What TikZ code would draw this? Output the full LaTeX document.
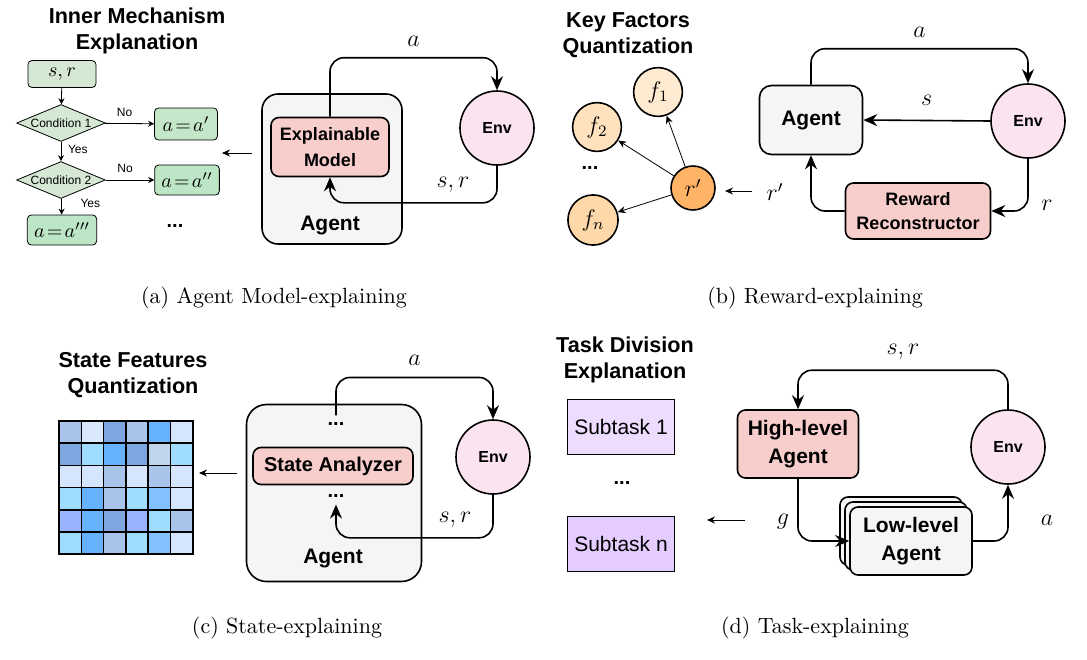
\documentclass[tikz,border=0pt]{standalone}
\usepackage{fontspec}
\setmainfont{Latin Modern Roman}
\newfontfamily\arial{Liberation Sans}
\usetikzlibrary{arrows.meta,positioning,shapes.geometric,calc}
\definecolor{agentgray}{HTML}{F5F5F5}
\definecolor{modelred}{HTML}{F8CECC}
\definecolor{envpink}{HTML}{FBE4F0}
\definecolor{flowgreen}{HTML}{D5E8D4}
\definecolor{leafgreen}{HTML}{BDE6C6}
\definecolor{factor}{HTML}{FFE2BD}
\definecolor{rprime}{HTML}{FFB366}
\definecolor{subone}{HTML}{EDDCFD}
\definecolor{subn}{HTML}{E5CCFF}
\tikzset{
  box/.style={draw, thick, rounded corners=4pt, align=center, font=\arial\bfseries\fontsize{10}{12}\selectfont},
  env/.style={draw, thick, circle, fill=envpink, minimum size=37pt, font=\arial\bfseries\fontsize{8}{10}\selectfont},
  title/.style={font=\arial\bfseries\fontsize{10.8}{13}\selectfont, align=center},
  capt/.style={font=\fontsize{11}{13}\selectfont},
  lab/.style={font=\fontsize{12}{12}\selectfont},
  flow/.style={thick, rounded corners=7pt, -{Stealth[length=7pt,width=6pt]}},
  expl/.style={-{Stealth[length=4pt,width=3.5pt]}},
  thin flow/.style={-{Stealth[length=3pt,width=3pt]}},
  small/.style={font=\arial\fontsize{6}{7}\selectfont},
}
\begin{document}
\begin{tikzpicture}[x=0.5pt,y=-0.5pt]
\useasboundingbox (0,0) rectangle (1087,659);

% (a) agent model-explaining
\node[title] at (137,31) {Inner Mechanism\\Explanation};
\node[draw, rounded corners=2pt, fill=flowgreen, minimum width=34pt, minimum height=13.5pt] (sr) at (62,74) {$s,r$};
\node[draw, diamond, aspect=2.4, fill=flowgreen, inner sep=0.5pt, small] (c1) at (61,123) {Condition 1};
\node[draw, diamond, aspect=2.4, fill=flowgreen, inner sep=0.5pt, small] (c2) at (61,180) {Condition 2};
\node[draw, rounded corners=2pt, fill=leafgreen!70!flowgreen, minimum width=31.5pt, minimum height=16pt] (a1) at (186,124) {$a\!=\!a'$};
\node[draw, rounded corners=2pt, fill=leafgreen, minimum width=32pt, minimum height=15pt] (a2) at (187,180) {$a\!=\!a''$};
\node[draw, rounded corners=2pt, fill=leafgreen, minimum width=31.5pt, minimum height=15pt] (a3) at (62,230) {$a\!=\!a'''$};
\draw[thin flow] (sr) -- (c1);
\draw[thin flow] (c1) -- node[small, right, pos=0.4]{Yes} (c2);
\draw[thin flow] (c2) -- node[small, right, pos=0.3, xshift=6pt]{Yes} (a3);
\draw[thin flow] (c1) -- node[small, above, pos=0.4]{No} (a1);
\draw[thin flow] (c2) -- node[small, above, pos=0.4]{No} (a2);
\node[font=\arial\bfseries] (dotsa) at (175,226) {...};
\draw[expl] (252,153) -- (222,153);

\node[box, rounded corners=8pt, fill=agentgray, minimum width=70pt, minimum height=75pt] (agentA) at (332,169) {};
\node[font=\arial\bfseries\fontsize{10.5}{12}\selectfont] at (330,225) {Agent};
\node[box, fill=modelred, minimum width=59pt, minimum height=29.5pt, font=\arial\bfseries\fontsize{9}{13}\selectfont] (model) at (330,147) {Explainable\\Model};
\node[env] (envA) at (497,128) {Env};
\draw[flow] (model.north) -- ++(0,-59) -| node[lab, pos=0.25, above, yshift=2pt]{$a$} (envA.north);
\draw[flow] (envA.south) -- ++(0,37) -| (model.south);
\node[lab] at (453,185) {$s,r$};
\node[capt] at (274,298) {(a) Agent Model-explaining};

% (b) reward-explaining
\node[title] at (628,35) {Key Factors\\Quantization};
\node[draw, thick, circle, fill=rprime, minimum size=22pt, lab] (rp) at (693,188) {$r'$};
\node[draw, thick, circle, fill=factor!70!white, minimum size=22pt, lab] (f1) at (658,92) {$f_1$};
\node[draw, thick, circle, fill=factor, minimum size=22pt, lab] (f2) at (597,127) {$f_2$};
\node[draw, thick, circle, fill=factor!90!orange, minimum size=22pt, lab] (fn) at (593,220) {$f_n$};
\node[font=\arial\bfseries] at (590,168) {...};
\draw[expl] (rp) -- (f1);
\draw[expl] (rp) -- (f2);
\draw[expl] (rp) -- (fn);
\node[lab] at (775,192) {$r'$};
\draw[expl] (752,191) -- (725,191);

\node[box, rounded corners=6pt, fill=agentgray, minimum width=51.5pt, minimum height=34.5pt, font=\arial\bfseries\fontsize{10.5}{12}\selectfont] (agentB) at (811,120) {Agent};
\node[env] (envB) at (1028,121) {Env};
\node[box, fill=modelred, minimum width=72.5pt, minimum height=28pt, font=\arial\bfseries\fontsize{9}{12}\selectfont] (rr) at (918,211) {Reward\\Reconstructor};
\draw[flow] (agentB.north) -- ++(0,-36) -| node[lab, pos=0.25, above, yshift=2pt]{$a$} (envB.north);
\draw[flow] (envB.west) -- node[lab, above, yshift=4pt]{$s$} (agentB.east);
\draw[flow] (envB.south) |- (rr.east);
\node[lab] at (1047,205) {$r$};
\draw[flow] (rr.west) -| (agentB.south);
\node[capt] at (815,298) {(b) Reward-explaining};

% (c) state-explaining
\node[title] at (133,375) {State Features\\Quantization};
\foreach \row [count=\j from 0] in {
  {A9C4EB,DAE8FC,7EA6E0,A9C4EB,66B2FF,D4E5FC},
  {7EA6E0,9FDCFF,66B2FF,7EA6E0,BFD5EA,9FDCFF},
  {D4E5FC,D4E5FC,A9C4EB,D4E5FC,A9C4EB,D4E5FC},
  {9FDCFF,66B2FF,A9C4EB,9FDCFF,82C0FF,D4E5FC},
  {99B3FF,66B2FF,7EA6E0,99B3FF,9FDCFF,A9C4EB},
  {9FDCFF,66B2FF,A9C4EB,9FDCFF,82C0FF,D4E5FC}}
  \foreach \c [count=\i from 0] in \row {
    \definecolor{cell}{HTML}{\c}
    \draw[thick, fill=cell] ({59+22.3*\i},{421+22.2*\j}) rectangle ++(22.3,22.2);
  }
\draw[expl] (237,473) -- (199,473);
\node[box, rounded corners=10pt, fill=agentgray, minimum width=87.5pt, minimum height=88.5pt] (agentC) at (334,493) {};
\node[font=\arial\bfseries\fontsize{10.5}{12}\selectfont] at (333,558) {Agent};
\node[box, fill=modelred, minimum width=80pt, minimum height=18.5pt] (sa) at (333,466) {State Analyzer};
\node[font=\arial\bfseries] (dtop) at (336,424) {...};
\node[font=\arial\bfseries] (dbot) at (336,496) {...};
\node[env] (envC) at (493,457) {Env};
\draw[flow] (dtop.north) -- ++(0,-38) -| node[lab, pos=0.25, above, yshift=2pt]{$a$} (envC.north);
\draw[flow] (envC.south) -- ++(0,43) -| (dbot.south);
\node[lab] at (455,520) {$s,r$};
\node[capt] at (287,628) {(c) State-explaining};

% (d) task-explaining
\node[title] at (625,360) {Task Division\\Explanation};
\node[draw, thick, fill=subone, minimum width=53.5pt, minimum height=27.5pt, font=\arial\fontsize{10.5}{12}\selectfont] (st1) at (621,427) {Subtask 1};
\node[draw, thick, fill=subn, minimum width=53.5pt, minimum height=27.5pt, font=\arial\fontsize{10.5}{12}\selectfont] (stn) at (621,544) {Subtask n};
\node[font=\arial\bfseries] at (622,483) {...};
\draw[expl] (745,520) -- (707,520);
\node[lab] at (783,522) {$g$};
\node[box, fill=modelred, minimum width=60.5pt, minimum height=34pt, font=\arial\bfseries\fontsize{10.5}{14}\selectfont] (high) at (798,444) {High-level\\Agent};
\node[env] (envD) at (1008,447) {Env};
\node[box, fill=agentgray, minimum width=61pt, minimum height=34pt] at (901,531) {};
\node[box, fill=agentgray, minimum width=61pt, minimum height=34pt] at (906,536) {};
\node[box, fill=agentgray, minimum width=61pt, minimum height=34pt, font=\arial\bfseries\fontsize{10.5}{14}\selectfont] (low) at (911,541) {Low-level\\Agent};
\draw[flow] (envD.north) -- ++(0,-39) -| node[lab, pos=0.25, above, yshift=2pt]{$s,r$} (high.north);
\draw[flow] (high.south) |- (low.west);
\draw[flow] (low.east) -| (envD.south);
\node[lab] at (1047,520) {$a$};
\node[capt] at (815,628) {(d) Task-explaining};
\end{tikzpicture}
\end{document}
